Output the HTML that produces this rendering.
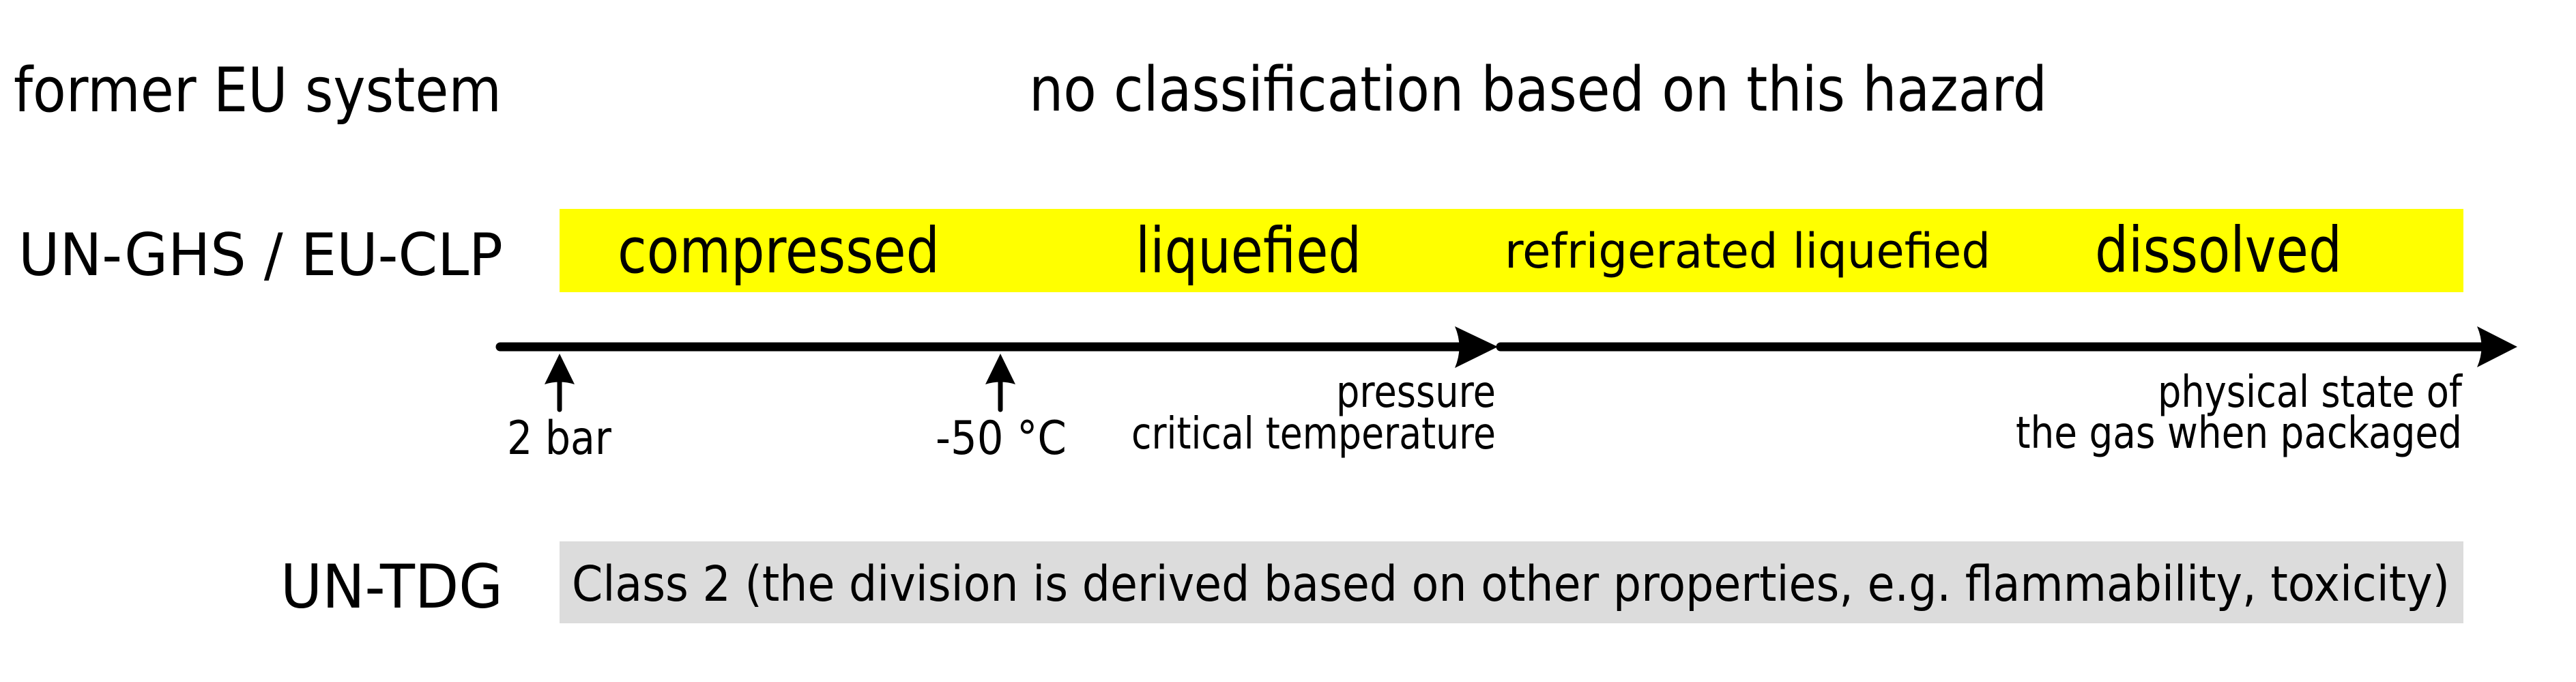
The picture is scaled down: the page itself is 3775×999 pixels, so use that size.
<!DOCTYPE html>
<html><head><meta charset="utf-8"><style>
html,body{margin:0;padding:0;background:#fff;}
svg{display:block;}
text{font-family:"DejaVu Sans","Liberation Sans",sans-serif;fill:#000;}
</style></head><body>
<svg width="3775" height="999" viewBox="0 0 3775 999" xmlns="http://www.w3.org/2000/svg">
<rect x="820" y="306" width="2790" height="122" fill="#ffff00"/>
<rect x="820" y="793" width="2790" height="120" fill="#dcdcdc"/>

<text x="20" y="163" font-size="90" textLength="715" lengthAdjust="spacingAndGlyphs">former EU system</text>
<text x="1508" y="162" font-size="90" textLength="1492" lengthAdjust="spacingAndGlyphs">no classification based on this hazard</text>
<text x="27" y="403" font-size="86" textLength="710" lengthAdjust="spacingAndGlyphs">UN-GHS / EU-CLP</text>
<text x="905" y="399" font-size="92" textLength="472" lengthAdjust="spacingAndGlyphs">compressed</text>
<text x="1664" y="399" font-size="92" textLength="331" lengthAdjust="spacingAndGlyphs">liquefied</text>
<text x="2205" y="392" font-size="70" textLength="712" lengthAdjust="spacingAndGlyphs">refrigerated liquefied</text>
<text x="3070" y="398" font-size="92" textLength="362" lengthAdjust="spacingAndGlyphs">dissolved</text>

<line x1="733" y1="508" x2="2140" y2="508" stroke="#000" stroke-width="13" stroke-linecap="round"/>
<path d="M2195,508 L2132,478 Q2145,508 2132,539 Z" fill="#000"/>
<line x1="2199" y1="508" x2="3640" y2="508" stroke="#000" stroke-width="13" stroke-linecap="round"/>
<path d="M3689,508 L3630,478 Q3643,508 3630,538 Z" fill="#000"/>

<line x1="820" y1="555" x2="820" y2="600" stroke="#000" stroke-width="7" stroke-linecap="round"/>
<path d="M820,518 L842,563 Q820,556 798,563 Z" fill="#000"/>
<line x1="1466" y1="555" x2="1466" y2="600" stroke="#000" stroke-width="7" stroke-linecap="round"/>
<path d="M1466,518 L1488,563 Q1466,556 1444,563 Z" fill="#000"/>

<text x="743" y="665" font-size="68" textLength="153" lengthAdjust="spacingAndGlyphs">2 bar</text>
<text x="1371" y="665" font-size="68" textLength="192" lengthAdjust="spacingAndGlyphs">-50 °C</text>
<text x="1958" y="596" font-size="64" textLength="234" lengthAdjust="spacingAndGlyphs">pressure</text>
<text x="1658" y="657" font-size="64" textLength="534" lengthAdjust="spacingAndGlyphs">critical temperature</text>
<text x="3162" y="596" font-size="64" textLength="446" lengthAdjust="spacingAndGlyphs">physical state of</text>
<text x="2954" y="656" font-size="64" textLength="654" lengthAdjust="spacingAndGlyphs">the gas when packaged</text>

<text x="411" y="890" font-size="88" textLength="326" lengthAdjust="spacingAndGlyphs">UN-TDG</text>
<text x="838" y="880" font-size="71" textLength="2752" lengthAdjust="spacingAndGlyphs">Class 2 (the division is derived based on other properties, e.g. flammability, toxicity)</text>
</svg>
</body></html>
